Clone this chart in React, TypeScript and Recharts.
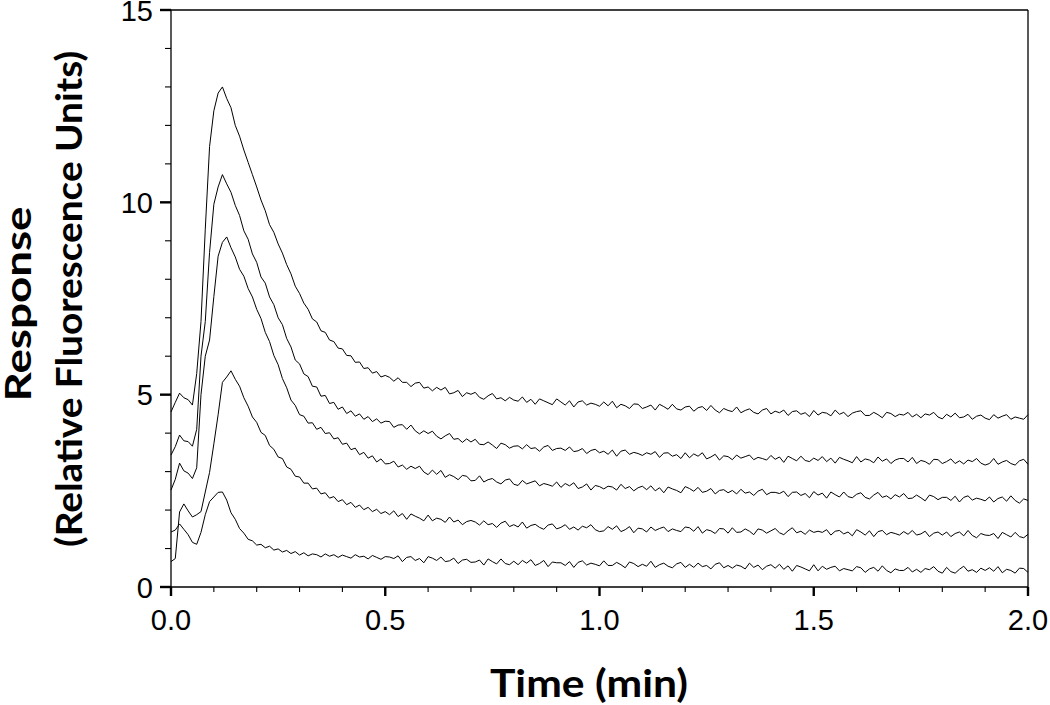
import React from "react";
import { LineChart, Line, XAxis, YAxis, ReferenceLine } from "recharts";

// ---- data ----
// sampling grid of the detector: one reading every 0.01 min from 0.00 to 2.00 min
const SAMPLE_STEP_MIN = 0.01;
const SAMPLE_COUNT = 201;

const X_TICKS = [0, 0.1, 0.2, 0.3, 0.4, 0.5, 0.6, 0.7, 0.8, 0.9, 1.0, 1.1, 1.2, 1.3, 1.4, 1.5, 1.6, 1.7, 1.8, 1.9, 2.0];
const X_MAJOR = [0, 0.5, 1.0, 1.5, 2.0];
const X_LABELS = ["0.0", "0.5", "1.0", "1.5", "2.0"];
const Y_TICKS = [0, 1, 2, 3, 4, 5, 6, 7, 8, 9, 10, 11, 12, 13, 14, 15];
const Y_MAJOR = [0, 5, 10, 15];
const Y_LABELS = ["0", "5", "10", "15"];

const trace1 = [
  4.55, 4.80, 5.04, 4.92, 4.87, 4.73, 5.55, 6.90, 9.30, 11.45,
  12.38, 12.84, 13.00, 12.70, 12.46, 12.00, 11.72, 11.36, 11.04, 10.72,
  10.40, 10.06, 9.78, 9.42, 9.22, 8.92, 8.68, 8.38, 8.14, 7.82,
  7.63, 7.38, 7.22, 6.97, 6.89, 6.66, 6.62, 6.42, 6.38, 6.21,
  6.19, 6.02, 6.01, 5.84, 5.85, 5.68, 5.70, 5.56, 5.60, 5.46,
  5.50,
  5.45, 5.35, 5.44, 5.32, 5.32, 5.21, 5.30, 5.32, 5.17, 5.20,
  5.10, 5.19, 5.12, 5.19, 5.02, 5.05, 5.11, 4.95, 5.05, 5.01,
  5.06, 4.93, 4.88, 4.97, 5.03, 4.89, 4.92, 4.84, 4.93, 4.86,
  4.83, 4.94, 4.80, 4.88, 4.75, 4.89, 4.84, 4.79, 4.74, 4.89,
  4.81, 4.73, 4.84, 4.68, 4.81, 4.84, 4.73, 4.78, 4.75, 4.70,
  4.81, 4.71, 4.83, 4.66, 4.75, 4.71, 4.64, 4.76, 4.75, 4.64,
  4.68, 4.73, 4.60, 4.75, 4.69, 4.62, 4.75, 4.63, 4.60, 4.68,
  4.70, 4.57, 4.66, 4.69, 4.59, 4.72, 4.60, 4.53, 4.64, 4.59,
  4.56, 4.68, 4.53, 4.59, 4.63, 4.54, 4.50, 4.60, 4.64, 4.50,
  4.57, 4.53, 4.60, 4.46, 4.56, 4.58, 4.49, 4.53, 4.43, 4.59,
  4.47, 4.54, 4.52, 4.45, 4.60, 4.49, 4.54, 4.43, 4.52, 4.56,
  4.58, 4.46, 4.46, 4.54, 4.48, 4.40, 4.54, 4.51, 4.43, 4.49,
  4.47, 4.54, 4.42, 4.49, 4.40, 4.50, 4.47, 4.54, 4.42, 4.37,
  4.49, 4.42, 4.52, 4.40, 4.42, 4.49, 4.36, 4.44, 4.47, 4.39,
  4.35, 4.48, 4.39, 4.44, 4.48, 4.36, 4.42, 4.39, 4.36, 4.48,
];

const trace2 = [
  3.43, 3.65, 3.95, 3.80, 3.78, 3.66, 4.10, 6.00, 6.90, 8.70,
  9.95, 10.40, 10.72, 10.48, 10.26, 9.92, 9.66, 9.26, 9.04, 8.66,
  8.44, 8.06, 7.90, 7.54, 7.34, 7.00, 6.82, 6.46, 6.24, 5.90,
  5.80, 5.54, 5.47, 5.22, 5.20, 4.96, 4.98, 4.77, 4.80, 4.62,
  4.68, 4.51, 4.58, 4.44, 4.50, 4.36, 4.43, 4.30, 4.37, 4.26,
  4.31,
  4.30, 4.15, 4.21, 4.22, 4.10, 4.21, 4.06, 3.98, 4.06, 3.99,
  4.05, 3.92, 3.85, 3.93, 3.99, 3.84, 3.86, 3.76, 3.85, 3.77,
  3.84, 3.71, 3.70, 3.77, 3.69, 3.60, 3.74, 3.70, 3.61, 3.66,
  3.67, 3.59, 3.70, 3.60, 3.62, 3.53, 3.64, 3.68, 3.55, 3.60,
  3.61, 3.55, 3.64, 3.52, 3.54, 3.60, 3.47, 3.55, 3.58, 3.49,
  3.53, 3.45, 3.56, 3.40, 3.53, 3.56, 3.45, 3.50, 3.47, 3.42,
  3.49, 3.45, 3.52, 3.37, 3.48, 3.49, 3.40, 3.44, 3.34, 3.49,
  3.36, 3.46, 3.40, 3.49, 3.33, 3.38, 3.45, 3.30, 3.41, 3.39,
  3.31, 3.43, 3.35, 3.39, 3.43, 3.31, 3.37, 3.34, 3.30, 3.42,
  3.32, 3.38, 3.24, 3.40, 3.34, 3.28, 3.40, 3.29, 3.26, 3.35,
  3.29, 3.39, 3.26, 3.35, 3.22, 3.37, 3.32, 3.28, 3.23, 3.39,
  3.25, 3.33, 3.30, 3.23, 3.38, 3.27, 3.33, 3.21, 3.30, 3.34,
  3.34, 3.25, 3.37, 3.21, 3.29, 3.26, 3.19, 3.32, 3.31, 3.21,
  3.26, 3.33, 3.21, 3.28, 3.20, 3.30, 3.26, 3.34, 3.22, 3.17,
  3.21, 3.34, 3.19, 3.25, 3.29, 3.21, 3.17, 3.28, 3.32, 3.19,
];

const trace3 = [
  2.52, 2.80, 3.22, 3.02, 2.96, 2.82, 3.10, 5.00, 6.00, 6.42,
  7.55, 8.60, 8.96, 9.10, 8.82, 8.58, 8.26, 8.08, 7.76, 7.54,
  7.22, 6.98, 6.62, 6.38, 6.02, 5.78, 5.42, 5.18, 4.86, 4.72,
  4.48, 4.44, 4.26, 4.27, 4.10, 4.15, 3.99, 4.01, 3.85, 3.88,
  3.71, 3.74, 3.57, 3.61, 3.44, 3.50, 3.35, 3.41, 3.25, 3.33,
  3.20,
  3.21, 3.27, 3.12, 3.17, 3.06, 3.14, 3.08, 3.14, 2.99, 2.92,
  3.04, 2.93, 3.03, 2.85, 2.92, 2.87, 2.79, 2.90, 2.88, 2.76,
  2.77, 2.89, 2.73, 2.79, 2.82, 2.73, 2.68, 2.78, 2.81, 2.67,
  2.64, 2.77, 2.68, 2.72, 2.76, 2.63, 2.69, 2.66, 2.62, 2.73,
  2.59, 2.69, 2.63, 2.71, 2.56, 2.60, 2.68, 2.52, 2.64, 2.61,
  2.55, 2.62, 2.60, 2.52, 2.67, 2.56, 2.61, 2.50, 2.58, 2.62,
  2.53, 2.63, 2.50, 2.58, 2.45, 2.60, 2.55, 2.51, 2.45, 2.61,
  2.56, 2.49, 2.59, 2.46, 2.49, 2.56, 2.42, 2.51, 2.53, 2.45,
  2.51, 2.42, 2.54, 2.44, 2.47, 2.38, 2.49, 2.54, 2.40, 2.46,
  2.46, 2.43, 2.49, 2.35, 2.46, 2.47, 2.38, 2.43, 2.32, 2.48,
  2.39, 2.44, 2.31, 2.47, 2.40, 2.34, 2.47, 2.35, 2.32, 2.41,
  2.45, 2.33, 2.29, 2.39, 2.46, 2.33, 2.37, 2.29, 2.40, 2.34,
  2.43, 2.30, 2.31, 2.39, 2.32, 2.24, 2.39, 2.35, 2.27, 2.33,
  2.33, 2.25, 2.36, 2.21, 2.33, 2.37, 2.26, 2.31, 2.28, 2.24,
  2.34, 2.21, 2.30, 2.34, 2.23, 2.37, 2.25, 2.18, 2.29, 2.25,
];

const trace4 = [
  0.66, 0.74, 1.95, 2.16, 1.98, 1.82, 1.88, 1.96, 2.47, 2.98,
  3.72, 4.48, 5.32, 5.46, 5.62, 5.40, 5.22, 4.92, 4.70, 4.42,
  4.28, 4.02, 3.94, 3.68, 3.58, 3.38, 3.34, 3.12, 3.06, 2.88,
  2.86, 2.70, 2.70, 2.55, 2.57, 2.42, 2.45, 2.31, 2.35, 2.22,
  2.27, 2.14, 2.20, 2.07, 2.13, 2.01, 2.07, 1.96, 2.02, 1.91,
  1.96,
  1.88, 1.98, 1.83, 1.91, 1.76, 1.90, 1.84, 1.79, 1.72, 1.87,
  1.72, 1.79, 1.76, 1.68, 1.82, 1.69, 1.74, 1.62, 1.70, 1.73,
  1.69, 1.61, 1.72, 1.62, 1.65, 1.55, 1.66, 1.71, 1.57, 1.62,
  1.56, 1.69, 1.53, 1.60, 1.63, 1.55, 1.50, 1.61, 1.64, 1.51,
  1.55, 1.62, 1.50, 1.56, 1.48, 1.58, 1.54, 1.62, 1.49, 1.44,
  1.46, 1.57, 1.50, 1.59, 1.44, 1.49, 1.57, 1.41, 1.53, 1.51,
  1.43, 1.56, 1.47, 1.52, 1.56, 1.44, 1.51, 1.47, 1.44, 1.56,
  1.54, 1.45, 1.57, 1.40, 1.49, 1.46, 1.39, 1.52, 1.51, 1.40,
  1.54, 1.42, 1.43, 1.51, 1.45, 1.36, 1.51, 1.48, 1.40, 1.46,
  1.52, 1.41, 1.36, 1.46, 1.54, 1.41, 1.45, 1.37, 1.48, 1.42,
  1.45, 1.42, 1.49, 1.35, 1.45, 1.47, 1.38, 1.43, 1.33, 1.49,
  1.43, 1.35, 1.46, 1.31, 1.44, 1.47, 1.36, 1.42, 1.39, 1.35,
  1.44, 1.37, 1.47, 1.35, 1.38, 1.45, 1.31, 1.40, 1.43, 1.35,
  1.43, 1.31, 1.39, 1.43, 1.33, 1.47, 1.34, 1.28, 1.39, 1.35,
  1.34, 1.39, 1.26, 1.42, 1.36, 1.30, 1.42, 1.31, 1.28, 1.37,
];

const trace5 = [
  1.43, 1.48, 1.64, 1.50, 1.36, 1.16, 1.11, 1.42, 1.88, 2.22,
  2.34, 2.46, 2.47, 2.26, 1.93, 1.76, 1.52, 1.40, 1.24, 1.20,
  1.09, 1.11, 1.02, 1.06, 0.96, 0.99, 0.91, 0.95, 0.87, 0.92,
  0.83, 0.89, 0.81, 0.86, 0.84, 0.78, 0.86, 0.80, 0.84, 0.77,
  0.83, 0.79, 0.75, 0.84, 0.78, 0.80, 0.73, 0.82, 0.77, 0.72,
  0.79,
  0.78, 0.74, 0.81, 0.66, 0.77, 0.79, 0.69, 0.74, 0.63, 0.79,
  0.75, 0.69, 0.78, 0.66, 0.68, 0.75, 0.61, 0.70, 0.72, 0.64,
  0.65, 0.70, 0.57, 0.73, 0.66, 0.60, 0.73, 0.61, 0.58, 0.67,
  0.58, 0.69, 0.62, 0.71, 0.56, 0.61, 0.69, 0.53, 0.65, 0.63,
  0.63, 0.56, 0.66, 0.51, 0.64, 0.68, 0.57, 0.62, 0.59, 0.55,
  0.68, 0.56, 0.56, 0.64, 0.58, 0.50, 0.65, 0.61, 0.53, 0.59,
  0.54, 0.67, 0.51, 0.58, 0.62, 0.54, 0.50, 0.60, 0.64, 0.51,
  0.59, 0.51, 0.62, 0.53, 0.56, 0.47, 0.59, 0.63, 0.50, 0.56,
  0.49, 0.57, 0.54, 0.47, 0.62, 0.51, 0.57, 0.45, 0.54, 0.58,
  0.49, 0.59, 0.46, 0.55, 0.41, 0.56, 0.52, 0.47, 0.42, 0.58,
  0.42, 0.54, 0.46, 0.51, 0.54, 0.42, 0.48, 0.45, 0.42, 0.53,
  0.50, 0.38, 0.47, 0.51, 0.41, 0.55, 0.43, 0.37, 0.47, 0.43,
  0.43, 0.51, 0.39, 0.46, 0.38, 0.48, 0.45, 0.53, 0.41, 0.36,
  0.51, 0.40, 0.36, 0.46, 0.54, 0.41, 0.45, 0.38, 0.49, 0.43,
  0.50, 0.41, 0.53, 0.37, 0.46, 0.43, 0.36, 0.49, 0.48, 0.38,
];

const SERIES_KEYS = ["s1", "s2", "s3", "s4", "s5"];
const SERIES_VALUES = [trace1, trace2, trace3, trace4, trace5];

const rows = Array.from({ length: SAMPLE_COUNT }, (_, i) => {
  const row: Record<string, number> = { t: Math.round(i * SAMPLE_STEP_MIN * 1000) / 1000 };
  SERIES_KEYS.forEach((k, si) => {
    row[k] = SERIES_VALUES[si][i];
  });
  return row;
});

// ---- styles ----
const TICK_FONT = "'Liberation Sans', Arial, sans-serif";
const TITLE_FONT = "Lato, 'Liberation Sans', sans-serif";
const INK = "#000";

const isMajor = (list: number[], v: number) => list.findIndex((m) => Math.abs(m - v) < 1e-6);

const XTick = (props: any) => {
  const { x, y, payload } = props;
  const idx = isMajor(X_MAJOR, payload.value);
  const major = idx >= 0;
  return (
    <g>
      <line x1={x} x2={x} y1={y} y2={y + (major ? 9 : 5)} stroke={INK} strokeWidth={major ? 2.4 : 1.1} />
      {major && (
        <text x={x} y={y + 43} textAnchor="middle" fontFamily={TICK_FONT} fontSize={29} fill={INK}>
          {X_LABELS[idx]}
        </text>
      )}
    </g>
  );
};

const YTick = (props: any) => {
  const { x, y, payload } = props;
  const idx = isMajor(Y_MAJOR, payload.value);
  const major = idx >= 0;
  return (
    <g>
      <line x1={x - (major ? 11 : 6)} x2={x} y1={y} y2={y} stroke={INK} strokeWidth={major ? 2.4 : 1.1} />
      {major && (
        <text x={x - 18} y={y + 10.5} textAnchor="end" fontFamily={TICK_FONT} fontSize={29} fill={INK}>
          {Y_LABELS[idx]}
        </text>
      )}
    </g>
  );
};

const XTitle = () => (
  <text
    x={589}
    y={697}
    textAnchor="middle"
    fontFamily={TITLE_FONT}
    fontWeight={700}
    fontSize={38}
    fill={INK}
    textLength={198}
    lengthAdjust="spacingAndGlyphs"
  >
    Time (min)
  </text>
);

const YTitle = () => (
  <g>
    <text
      transform="translate(31,304) rotate(-90)"
      textAnchor="middle"
      fontFamily={TITLE_FONT}
      fontWeight={700}
      fontSize={37}
      fill={INK}
      textLength={195}
      lengthAdjust="spacingAndGlyphs"
    >
      Response
    </text>
    <text
      transform="translate(82,299) rotate(-90)"
      textAnchor="middle"
      fontFamily={TITLE_FONT}
      fontWeight={700}
      fontSize={37}
      fill={INK}
      textLength={496}
      lengthAdjust="spacingAndGlyphs"
    >
      (Relative Fluorescence Units)
    </text>
  </g>
);

export default function App() {
  return (
    <div style={{ position: "absolute", left: 0, top: 0, width: 1050, height: 705, background: "#fff" }}>
      <LineChart width={1050} height={705} data={rows} margin={{ top: 10, right: 22, bottom: 0, left: 0 }}>
        <XAxis
          dataKey="t"
          type="number"
          domain={[0, 2]}
          ticks={X_TICKS}
          interval={0}
          height={118}
          tickSize={0}
          tickMargin={0}
          tickLine={false}
          axisLine={{ stroke: INK, strokeWidth: 1.3 }}
          tick={<XTick />}
          label={{ content: () => <XTitle /> }}
        />
        <YAxis
          type="number"
          domain={[0, 15]}
          ticks={Y_TICKS}
          interval={0}
          width={171}
          tickSize={0}
          tickMargin={0}
          tickLine={false}
          axisLine={{ stroke: INK, strokeWidth: 1.3 }}
          tick={<YTick />}
          label={{ content: () => <YTitle /> }}
        />
        <ReferenceLine y={15} stroke={INK} strokeWidth={1.3} />
        <ReferenceLine x={2} stroke={INK} strokeWidth={1.3} />
        {SERIES_KEYS.map((k) => (
          <Line
            key={k}
            type="linear"
            dataKey={k}
            stroke="#000"
            strokeWidth={1}
            dot={false}
            activeDot={false}
            isAnimationActive={false}
          />
        ))}
      </LineChart>
    </div>
  );
}
